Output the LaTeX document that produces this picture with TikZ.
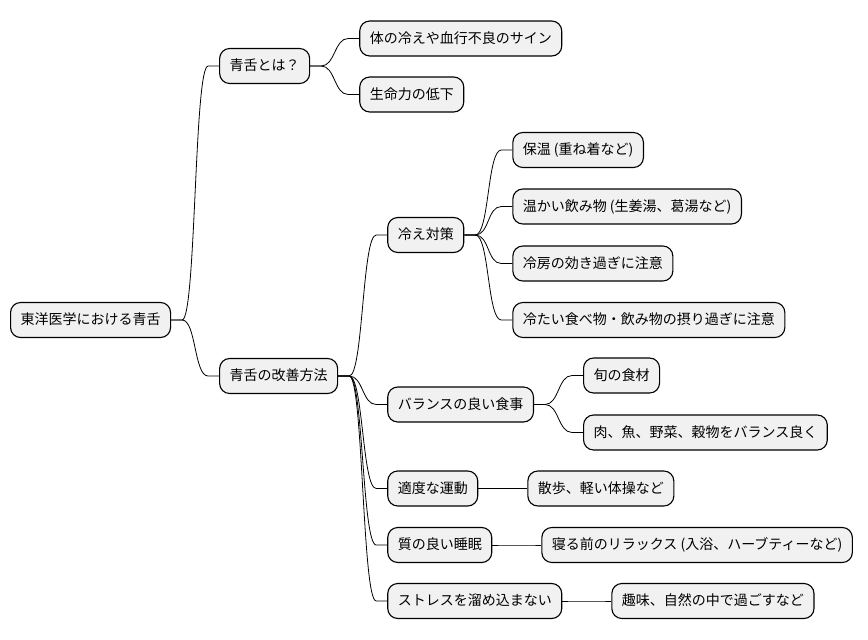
\documentclass[tikz,border=0pt]{standalone}
\usepackage{fontspec}
\newfontfamily\cjk{Noto Sans CJK JP}
\usetikzlibrary{calc}
\definecolor{nodefill}{HTML}{F1F1F1}
\tikzset{
  mm/.style={draw=black, fill=nodefill, line width=1.1pt, rounded corners=10pt,
    inner xsep=10pt, inner ysep=0pt, minimum height=35pt, anchor=west,
    font=\cjk\fontsize{14}{16}\selectfont, text height=11.5pt, text depth=2.5pt},
  conn/.style={draw=black, line width=0.8pt}
}
\newcommand\mmlink[2]{\draw[conn] let \p1=(#1.east), \p2=(#2.west) in
  (\p1) -- (\x1+11pt,\y1) .. controls (\x1+25pt,\y1) and (\x2-25pt,\y2) .. (\x2-11pt,\y2) -- (\p2);}
\begin{document}
\begin{tikzpicture}[x=1pt,y=-1pt]
\fill[white] (0,0) rectangle (868,640);
\useasboundingbox (0,0) rectangle (868,640);
% root
\node[mm] (root) at (10,320) {東洋医学における青舌};
% level 1
\coordinate (c1) at ([xshift=48pt]root.east);
\node[mm] (A) at (c1 |- 0,66) {青舌とは？};
\node[mm] (B) at (c1 |- 0,376) {青舌の改善方法};
% A children
\coordinate (cA) at ([xshift=49pt]A.east);
\node[mm] (A1) at (cA |- 0,38.5) {体の冷えや血行不良のサイン};
\node[mm] (A2) at (cA |- 0,94.5) {生命力の低下};
% B children
\coordinate (cB) at ([xshift=49pt]B.east);
\node[mm] (B1) at (cB |- 0,235) {冷え対策};
\node[mm] (B2) at (cB |- 0,404.5) {バランスの良い食事};
\node[mm] (B3) at (cB |- 0,488.5) {適度な運動};
\node[mm] (B4) at (cB |- 0,545) {質の良い睡眠};
\node[mm] (B5) at (cB |- 0,601) {ストレスを溜め込まない};
% B1 children
\coordinate (cB1) at ([xshift=48pt]B1.east);
\node[mm] (B1a) at (cB1 |- 0,150) {保温 (重ね着など)};
\node[mm] (B1b) at (cB1 |- 0,206.5) {温かい飲み物 (生姜湯、葛湯など)};
\node[mm] (B1c) at (cB1 |- 0,263.5) {冷房の効き過ぎに注意};
\node[mm] (B1d) at (cB1 |- 0,320) {冷たい食べ物・飲み物の摂り過ぎに注意};
% B2 children
\coordinate (cB2) at ([xshift=49pt]B2.east);
\node[mm] (B2a) at (cB2 |- 0,375.5) {旬の食材};
\node[mm] (B2b) at (cB2 |- 0,432.5) {肉、魚、野菜、穀物をバランス良く};
% B3..B5 children
\node[mm] (B3a) at ([xshift=49pt]B3.east) {散歩、軽い体操など};
\node[mm] (B4a) at ([xshift=49pt]B4.east) {寝る前のリラックス (入浴、ハーブティーなど)};
\node[mm] (B5a) at ([xshift=49pt]B5.east) {趣味、自然の中で過ごすなど};
% links
\mmlink{root}{A}
\mmlink{root}{B}
\mmlink{A}{A1}
\mmlink{A}{A2}
\mmlink{B}{B1}
\mmlink{B}{B2}
\mmlink{B}{B3}
\mmlink{B}{B4}
\mmlink{B}{B5}
\mmlink{B1}{B1a}
\mmlink{B1}{B1b}
\mmlink{B1}{B1c}
\mmlink{B1}{B1d}
\mmlink{B2}{B2a}
\mmlink{B2}{B2b}
\mmlink{B3}{B3a}
\mmlink{B4}{B4a}
\mmlink{B5}{B5a}
\end{tikzpicture}
\end{document}
